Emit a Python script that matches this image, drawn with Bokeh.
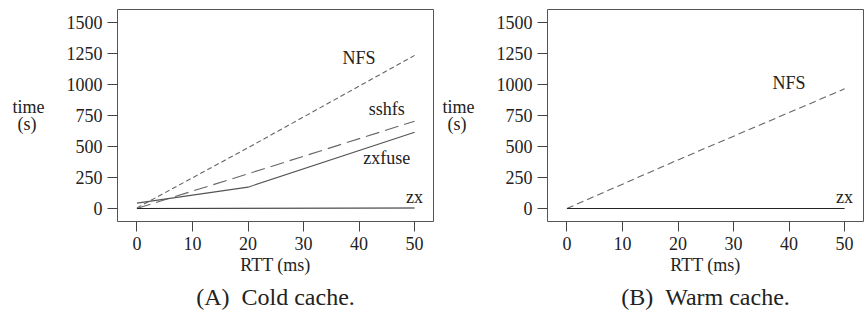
from bokeh.plotting import figure
from bokeh.layouts import row
from bokeh.models import FixedTicker, Title, Range1d
from bokeh.core.properties import value
from bokeh.embed import file_html
from bokeh.resources import INLINE

# ---- data ----
rtt = [0, 20, 50]
cold_nfs = [5, 490, 1235]
cold_sshfs = [0, 280, 704]
cold_zxfuse = [43, 172, 615]
cold_zx = [0, 2, 4]
warm_nfs = [0, 392, 965]
warm_zx = [0, 0, 0]

y_ticks = [0, 250, 500, 750, 1000, 1250, 1500]
x_ticks = [0, 10, 20, 30, 40, 50]

cold_label_text = ["NFS", "sshfs", "zxfuse", "zx"]
cold_label_x = [40, 45, 45, 50]
cold_label_y = [1210, 806, 411, 89]
warm_label_text = ["NFS", "zx"]
warm_label_x = [40, 50]
warm_label_y = [1010, 89]

FONT = "Liberation Serif"
TXT = "#222222"


def make_fig(caption, min_left, min_right, fw):
    p = figure(output_backend="svg", toolbar_location=None,
               frame_width=fw, frame_height=212,
               x_range=Range1d(-3.5, 53.4), y_range=Range1d(-105, 1605),
               min_border_left=min_left, min_border_right=min_right,
               min_border_top=9, min_border_bottom=10)
    p.background_fill_color = "white"
    p.border_fill_color = "white"
    p.outline_line_color = "#555555"
    p.outline_line_width = 1
    p.xgrid.visible = False
    p.ygrid.visible = False
    for ax in (p.xaxis[0], p.yaxis[0]):
        ax.axis_line_color = None
        ax.major_tick_line_color = "#444444"
        ax.major_tick_line_width = 1
        ax.major_tick_in = 0
        ax.major_tick_out = 10
        ax.minor_tick_line_color = None
        ax.major_label_text_font = FONT
        ax.major_label_text_font_size = "18px"
        ax.major_label_text_color = TXT
        ax.axis_label_text_font = FONT
        ax.axis_label_text_font_size = "18px"
        ax.axis_label_text_font_style = "normal"
        ax.axis_label_text_color = TXT
    p.xaxis.ticker = FixedTicker(ticks=x_ticks)
    p.yaxis.ticker = FixedTicker(ticks=y_ticks)
    p.xaxis.axis_label = "RTT (ms)"
    p.xaxis.major_label_standoff = 5
    p.xaxis.axis_label_standoff = 2
    p.yaxis.axis_label = "time\n(s)\u00a0\u2009"
    p.yaxis.axis_label_orientation = "horizontal"
    p.yaxis.axis_label_text_line_height = 0.88
    p.yaxis.axis_label_standoff = 19
    p.yaxis.major_label_standoff = 5
    t = Title(text=caption, align="center", text_font=FONT,
              text_font_size="24px", text_font_style="normal",
              text_color=TXT, offset=0, standoff=8)
    p.add_layout(t, "below")
    return p


pa = make_fig("(A)\u00a0\u00a0Cold cache.", 117, 5, 316)
pa.line(rtt, cold_nfs, line_color="#666666", line_width=1.1, line_dash="5 3")
pa.line(rtt, cold_sshfs, line_color="#666666", line_width=1.1, line_dash="14 6")
pa.line(rtt, cold_zxfuse, line_color="#555555", line_width=1.1)
pa.line(rtt, cold_zx, line_color="#222222", line_width=1.1)
pa.text(x=cold_label_x, y=cold_label_y, text=cold_label_text,
        text_font=value(FONT), text_font_size="18px", text_color=TXT,
        text_align="center", text_baseline="middle")

pb = make_fig("(B)\u00a0\u00a0Warm cache.", 109, 1, 316)
pb.line(rtt, warm_nfs, line_color="#666666", line_width=1.1, line_dash="7 4")
pb.line(rtt, warm_zx, line_color="#222222", line_width=1.1)
pb.text(x=warm_label_x, y=warm_label_y, text=warm_label_text,
        text_font=value(FONT), text_font_size="18px", text_color=TXT,
        text_align="center", text_baseline="middle")

layout = row(pa, pb)
open("out.html", "w").write(file_html(layout, INLINE))
